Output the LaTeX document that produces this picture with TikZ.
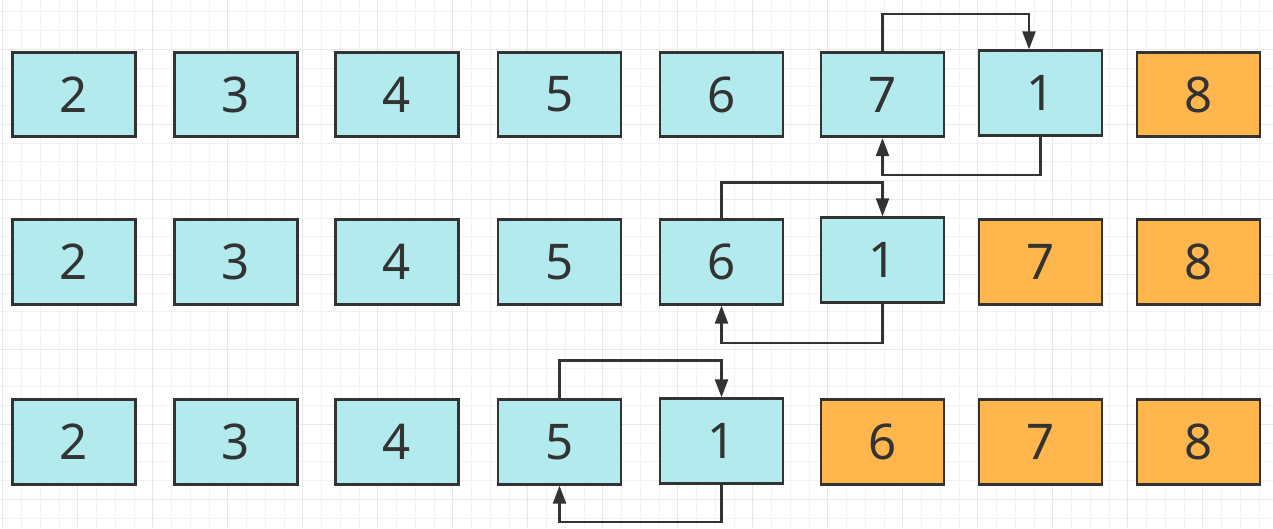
\documentclass[tikz,border=0pt]{standalone}
\usepackage{fontspec}
\setmainfont{Noto Sans}
\usetikzlibrary{arrows.meta}

\begin{document}
\begin{tikzpicture}[x=0.02cm, y=-0.02cm,
  cell/.style={draw=boxline, line width=1.6pt, minimum width=2.46cm, minimum height=1.69cm,
    inner sep=0pt, text=boxline, font=\fontsize{28}{30}\selectfont},
  open/.style={cell, fill=cellopen},
  done/.style={cell, fill=celldone},
  swap/.style={draw=boxline, line width=1.3pt, -{Triangle[length=0.36cm, width=0.26cm]}},
  gridminor/.style={draw=gray!10, line width=0.5pt},
  gridmajor/.style={draw=gray!18, line width=0.6pt}]
\definecolor{cellopen}{RGB}{178,234,238}
\definecolor{celldone}{RGB}{255,182,77}
\definecolor{boxline}{RGB}{51,51,51}
\useasboundingbox (0,0) rectangle (1273,528);
\fill[white] (0,0) rectangle (1273,528);
% grid
\foreach \gx in {0,...,67} \draw[gridminor] ({2.7+18.75*\gx},0) -- ++(0,528);
\foreach \gy in {0,...,28} \draw[gridminor] (0,{11.8+18.75*\gy}) -- ++(1273,0);
\foreach \gx in {0,...,16} \draw[gridmajor] ({2.7+75*\gx},0) -- ++(0,528);
\foreach \gy in {0,...,6} \draw[gridmajor] (0,{49.3+75*\gy}) -- ++(1273,0);
% row 1
\node[open] (ra2) at (74,94.5) {2};
\node[open] (ra3) at (236,94.5) {3};
\node[open] (ra4) at (397,94.5) {4};
\node[open] (ra5) at (559.5,94.5) {5};
\node[open] (ra6) at (721.5,94.5) {6};
\node[open] (ra7) at (882.5,94.5) {7};
\node[open] (ra1) at (1040.5,93) {1};
\node[done] (ra8) at (1198.5,94.5) {8};
% row 2
\node[open] (rb2) at (74,262) {2};
\node[open] (rb3) at (236,262) {3};
\node[open] (rb4) at (397,262) {4};
\node[open] (rb5) at (559.5,262) {5};
\node[open] (rb6) at (721.5,262) {6};
\node[open] (rb1) at (882.5,260) {1};
\node[done] (rb7) at (1040.5,262) {7};
\node[done] (rb8) at (1198.5,262) {8};
% row 3
\node[open] (rc2) at (74,442) {2};
\node[open] (rc3) at (236,442) {3};
\node[open] (rc4) at (397,442) {4};
\node[open] (rc5) at (559.5,442) {5};
\node[open] (rc1) at (721.5,441) {1};
\node[done] (rc6) at (882.5,442) {6};
\node[done] (rc7) at (1040.5,442) {7};
\node[done] (rc8) at (1198.5,442) {8};
% swaps
\draw[swap] (ra7.north) -- ++(0,-37) -| ([xshift=-0.23cm]ra1.north);
\draw[swap] (ra1.south) -- ++(0,38) -| (ra7.south);
\draw[swap] (rb6.north) -- ++(0,-36) -| (rb1.north);
\draw[swap] (rb1.south) -- ++(0,39) -| (rb6.south);
\draw[swap] (rc5.north) -- ++(0,-38) -| (rc1.north);
\draw[swap] (rc1.south) -- ++(0,37) -| (rc5.south);
\end{tikzpicture}
\end{document}
